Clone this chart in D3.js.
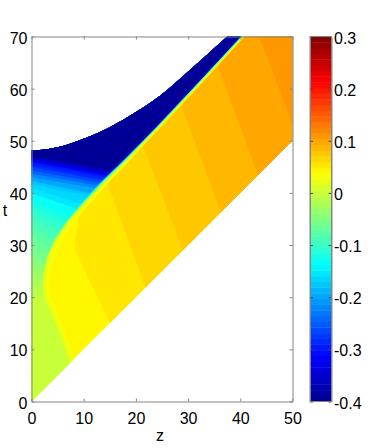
<!DOCTYPE html>
<html>
<head>
<meta charset="utf-8">
<script src="https://cdn.jsdelivr.net/npm/d3@7"></script>
<style>
  body { margin: 0; background: #fff; }
  text, .axis text { font-family: "Liberation Sans", Arial, sans-serif; font-size: 16px; fill: #000; }
  .axis path, .axis line { stroke: #858585; }
  .cbar line { stroke: #444; }
</style>
</head>
<body>
<svg width="382" height="448"></svg>
<script>
// colour axis
var colorMin = -0.4, colorMax = 0.3, colorLevels = 64;
var jetStops  = [0, 0.125, 0.375, 0.625, 0.875, 1];
var jetColors = ["#00008f", "#0000ff", "#00ffff", "#ffff00", "#ff0000", "#800000"];

// ticks
var zTicks = [0, 10, 20, 30, 40, 50];
var tTicks = [0, 10, 20, 30, 40, 50, 60, 70];
var colorTicks = [-0.4, -0.3, -0.2, -0.1, 0, 0.1, 0.2, 0.3];
var colorTickLabels = ["-0.4", "-0.3", "-0.2", "-0.1", "0", "0.1", "0.2", "0.3"];

// upper edge of the solved region
var topZ = [0, 3, 6, 10, 15, 20, 24.7, 30.5, 37.5];
var topT = [48.2, 48.4, 49, 50.4, 52.6, 55.5, 58.7, 63.7, 70];

// right-hand plateaus: each one starts at the lower diagonal and runs up to the front
var plateauBase = 0.043;
var plateauValues = [0.0539, 0.0648, 0.0758, 0.0867, 0.0977, 0.1086];
var plateauZ = [
  [15, 8.6, 8.2, 9, 9],
  [21.8, 17, 14.8, 14.6, 14.6],
  [29, 21.5, 21, 21],
  [36.3, 29, 28.7, 28.7],
  [43.4, 36, 35.8, 35.8],
  [51, 43.6, 43.6]
];
var plateauT = [
  [15, 28.5, 31, 34, 75],
  [22, 35, 41, 44, 75],
  [29, 48.5, 51, 75],
  [36.3, 56, 59, 75],
  [43.4, 63.5, 66, 75],
  [50.6, 70, 75]
];

// shock front (where the flat plateau begins)
var frontT = [8.8, 13.5, 20, 22, 24.5, 26, 28, 31, 34.7, 38, 41.8, 46, 50, 52.6, 60, 70, 72];
var frontZ = [8, 6.3, 3.6, 3.3, 3.5, 3.85, 4.4, 5.8, 8.3, 11.2, 14.6, 18.6, 22.2, 24.7, 31.6, 40.8, 42.8];

// iso-levels of the fan left of the front: value, t where it leaves z=0,
// t where it reaches the front, distance kept from the front
var fanValues = [0.032, 0.0211, 0, -0.011, -0.022, -0.033, -0.044, -0.055, -0.066, -0.077, -0.088, -0.099, -0.11, -0.12, -0.13,
                 -0.15, -0.165, -0.18, -0.2, -0.22, -0.24, -0.26, -0.28, -0.3, -0.32, -0.34, -0.36, -0.375, -0.395];
var fanStartT = [-1, -1, -1, 20, 22.5, 24.5, 26.5, 28, 30, 32, 33.5, 35, 36.5, 37.5, 38.5,
                 40, 41, 41.7, 42.3, 43, 43.7, 44.3, 45, 45.5, 46, 46.3, 46.6, 46.9, 47.2];
var fanEndT = [-1, -1, -1, 20.5, 22, 23.5, 25, 26.5, 28, 29.5, 31, 32.5, 33.5, 34.5, 35.5,
               37, 38, 39.5, 40, 41, 41.5, 42, 42.5, 43, 43.3, 43.6, 43.9, 44.2, 44.5];
var fanGap = [0, 0.28, 0.55, 0.58, 0.6, 0.62, 0.65, 0.68, 0.7, 0.72, 0.74, 0.76, 0.78, 0.8, 0.82,
              0.84, 0.86, 0.88, 0.9, 0.92, 0.94, 0.96, 0.98, 1, 1.02, 1.04, 1.06, 1.08, 1.15];

var svg = d3.select("svg");

var x = d3.scaleLinear().domain([0, 50]).range([31.5, 292.5]),
    y = d3.scaleLinear().domain([0, 70]).range([401.5, 36.5]);

// jet, cut in discrete levels like the colorbar
var jet = d3.scaleLinear().domain(jetStops).range(jetColors).interpolate(d3.interpolateRgb);
function levelOf(v) {
  var i = Math.floor((v - colorMin) / (colorMax - colorMin) * colorLevels);
  return Math.max(0, Math.min(colorLevels - 1, i));
}
function color(v) { return jet((levelOf(v) + 0.5) / colorLevels); }

var line = d3.line()
    .x(function(d) { return x(d[0]); })
    .y(function(d) { return y(d[1]); });

// region clip, the upper edge is a smooth curve
var upperEdge = d3.line().curve(d3.curveCatmullRom)
    .x(function(d) { return x(d[0]); })
    .y(function(d) { return y(d[1]); });
var regionPath = upperEdge(d3.zip(topZ, topT))
    + "L" + x(50) + "," + y(70) + "L" + x(50) + "," + y(50) + "L" + x(0) + "," + y(0) + "Z";

svg.append("clipPath").attr("id", "region")
  .append("path").attr("d", regionPath);

var field = svg.append("g")
    .style("filter", "blur(0.5px)")
  .append("g")
    .attr("clip-path", "url(#region)");

// base plateau
field.append("path")
    .attr("d", regionPath)
    .attr("fill", color(plateauBase));

// other plateaus, closed off to the right
field.selectAll(".plateau")
    .data(plateauValues)
  .enter().append("path")
    .attr("class", "plateau")
    .attr("fill", function(d) { return color(d); })
    .attr("d", function(d, i) {
      var pts = d3.zip(plateauZ[i], plateauT[i]);
      pts.push([60, 75], [60, 0]);
      return line(pts) + "Z";
    });

// fan levels, each one closed off towards the upper left
var frontAt = d3.scaleLinear().domain(frontT).range(frontZ);
var frontTaper = d3.scaleLinear().domain([30, 40, 50, 70]).range([2.2, 2, 1, 0.8]).clamp(true);

field.selectAll(".fan")
    .data(fanValues)
  .enter().append("path")
    .attr("class", "fan")
    .attr("fill", function(d) { return color(d); })
    .attr("stroke", function(d) { return color(d); })
    .attr("stroke-width", 0.3)
    .attr("d", function(d, i) {
      var gap = fanGap[i],
          endT = fanEndT[i],
          pts = [[0, fanStartT[i]], [frontAt(endT) - gap * frontTaper(endT), endT]];
      frontT.forEach(function(t, k) {
        if (t > endT + 0.5) pts.push([frontZ[k] - gap * frontTaper(t), t]);
      });
      pts.push([-1, 72]);
      return line(pts) + "Z";
    });

// axes
var plot = svg.append("g");

plot.append("g").attr("class", "axis")
    .attr("transform", "translate(0," + y(0) + ")")
    .call(d3.axisBottom(x).tickValues(zTicks).tickSizeInner(-3).tickSizeOuter(0).tickPadding(11));
plot.append("g").attr("class", "axis")
    .attr("transform", "translate(0," + y(70) + ")")
    .call(d3.axisTop(x).tickValues(zTicks).tickSizeInner(-3).tickSizeOuter(0).tickFormat(""));
plot.append("g").attr("class", "axis")
    .attr("transform", "translate(" + x(0) + ",0)")
    .call(d3.axisLeft(y).tickValues(tTicks).tickSizeInner(-3).tickSizeOuter(0).tickPadding(4))
    .call(function(g) { g.selectAll("text").attr("y", 1.5); });
plot.append("g").attr("class", "axis")
    .attr("transform", "translate(" + x(50) + ",0)")
    .call(d3.axisRight(y).tickValues(tTicks).tickSizeInner(-3).tickSizeOuter(0).tickFormat(""));

svg.append("text").attr("x", 160).attr("y", 441).attr("text-anchor", "middle").text("z");
svg.append("text").attr("x", 5).attr("y", 216).attr("text-anchor", "middle").text("t");

// colorbar
var cbLeft = 310, cbRight = 331.5;
var cy = d3.scaleLinear().domain([colorMin, colorMax]).range([401.5, 36.5]);
var cells = d3.scaleBand().domain(d3.range(colorLevels)).range([401.5, 36.5]);

svg.append("g").selectAll("rect")
    .data(d3.range(colorLevels))
  .enter().append("rect")
    .attr("x", cbLeft)
    .attr("width", cbRight - cbLeft)
    .attr("y", function(d) { return cells(d); })
    .attr("height", cells.bandwidth() + 0.4)
    .attr("fill", function(d) { return jet((d + 0.5) / colorLevels); });

var labels = d3.scaleOrdinal().domain(colorTicks).range(colorTickLabels);
svg.append("g").attr("class", "axis cbar")
    .attr("transform", "translate(" + cbRight + ",0)")
    .call(d3.axisRight(cy).tickValues(colorTicks).tickSizeInner(-3).tickSizeOuter(0).tickPadding(4)
      .tickFormat(function(d) { return labels(d); }))
    .call(function(g) { g.selectAll("text").attr("x", 2.5).attr("y", 1.5); });
svg.append("g").attr("class", "axis cbar")
    .attr("transform", "translate(" + cbLeft + ",0)")
    .call(d3.axisLeft(cy).tickValues(colorTicks).tickSizeInner(-3).tickSizeOuter(0).tickFormat(""));
svg.append("rect")
    .attr("x", cbLeft).attr("y", 36.5)
    .attr("width", cbRight - cbLeft).attr("height", 365)
    .attr("fill", "none").attr("stroke", "#858585");
</script>
</body>
</html>
